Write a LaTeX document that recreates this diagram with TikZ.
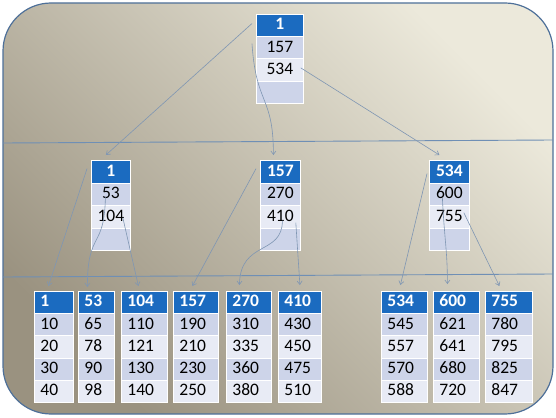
\documentclass[tikz,border=0pt]{standalone}
\usepackage{fontspec}
\setmainfont{Carlito}
\usetikzlibrary{arrows.meta}
\definecolor{hdrblue}{HTML}{1B6BC0}
\definecolor{rowdark}{HTML}{CDD4E9}
\definecolor{rowlight}{HTML}{E8EBF5}
\definecolor{bgdark}{HTML}{9A9280}
\definecolor{bglight}{HTML}{ECE9DB}
\definecolor{framec}{HTML}{4E7099}
\definecolor{sepline}{HTML}{6F8FB5}
\definecolor{connc}{HTML}{7F96B3}
\tikzset{
  cell/.style={draw=white, line width=0.8pt, anchor=north west, inner ysep=0pt,
    text height=11.8pt, text depth=3pt, font=\fontsize{17.5}{20}\selectfont},
  lcell/.style={cell, inner xsep=6pt, align=left},
  ccell/.style={cell, inner xsep=0pt, align=center},
  hdr/.style={fill=hdrblue, text=white, font=\fontsize{17.5}{20}\selectfont\bfseries},
  dark/.style={fill=rowdark, text=black},
  light/.style={fill=rowlight, text=black},
  conn/.style={draw=connc, line width=0.6pt, -{Straight Barb[length=3.5pt,width=5pt]}},
  sep/.style={draw=sepline, line width=0.9pt},
}
\newcommand\leaftab[8]{%
  \pgfmathsetmacro\tw{#3-12}%
  \node[lcell,hdr,text width=\tw pt,minimum height=22.2pt] (#1-h) at (#2,291) {#4};
  \node[lcell,dark,text width=\tw pt,minimum height=22.2pt] (#1-1) at (#2,313.2) {#5};
  \node[lcell,light,text width=\tw pt,minimum height=22.2pt] (#1-2) at (#2,335.4) {#6};
  \node[lcell,dark,text width=\tw pt,minimum height=22.2pt] (#1-3) at (#2,357.6) {#7};
  \node[lcell,light,text width=\tw pt,minimum height=22.2pt] (#1-4) at (#2,379.8) {#8};
}
\newcommand\uptab[8]{%
  \node[ccell,hdr,minimum width=#4pt,minimum height=#5pt] (#1-h) at (#2,#3) {#6};
  \node[ccell,dark,minimum width=#4pt,minimum height=#5pt] (#1-1) at (#2,{#3+#5}) {#7};
  \node[ccell,light,minimum width=#4pt,minimum height=#5pt] (#1-2) at (#2,{#3+2*#5}) {#8};
  \node[ccell,dark,minimum width=#4pt,minimum height=#5pt] (#1-3) at (#2,{#3+3*#5}) {};
}
\begin{document}
\begin{tikzpicture}[x=1pt,y=-1pt]
\useasboundingbox (0,0) rectangle (556,417);
\shade[draw=framec, line width=1.2pt, rounded corners=48pt, bottom color=bgdark, top color=bglight, shading angle=-45] (3,3) rectangle (553,414);
\draw[sep] (3,143) -- (553,140);
\draw[sep] (3,277) -- (553,274);

\uptab{R}{256}{14}{47}{22.2}{1}{157}{534}
\uptab{MA}{91}{160}{39}{22.5}{1}{53}{104}
\uptab{MB}{260}{160}{40}{22.5}{157}{270}{410}
\uptab{MC}{429}{160}{40}{22.5}{534}{600}{755}

\leaftab{LA}{34}{39}{1}{10}{20}{30}{40}
\leaftab{LB}{78}{36}{53}{65}{78}{90}{98}
\leaftab{LC}{121}{46}{104}{110}{121}{130}{140}
\leaftab{LD}{173}{45}{157}{190}{210}{230}{250}
\leaftab{LE}{226}{45}{270}{310}{335}{360}{380}
\leaftab{LF}{278}{43}{410}{430}{450}{475}{510}
\leaftab{LG}{381}{46}{534}{545}{557}{570}{588}
\leaftab{LH}{433}{46}{600}{621}{641}{680}{720}
\leaftab{LI}{485}{47}{755}{780}{795}{825}{847}

\draw[conn] ([xshift=-4pt,yshift=2pt]R-h.west) -- ([xshift=-5pt,yshift=5pt]MA-h.north);
\draw[conn] ([xshift=-4pt,yshift=4pt]R-1.west) .. controls +(4,62) and +(0,-60) .. ([xshift=-7pt,yshift=5pt]MB-h.north);
\draw[conn] ([xshift=-3pt,yshift=2pt]R-2.east) -- ([xshift=-10pt,yshift=5pt]MC-h.north);

\draw[conn] ([xshift=-4pt,yshift=3pt]MA-h.west) -- ([xshift=-5.5pt,yshift=5pt]LA-h.north);
\draw[conn] ([xshift=-5.5pt,yshift=-3pt]MA-1.center) .. controls +(-1,53) and +(0,-57) .. ([xshift=-9pt,yshift=4pt]LB-h.north);
\draw[conn] ([xshift=-8pt,yshift=-1pt]MA-2.east) -- ([xshift=-6pt,yshift=5pt]LC-h.north);

\draw[conn] ([xshift=-4pt,yshift=3pt]MB-h.west) -- ([xshift=-3.5pt,yshift=5pt]LD-h.north);
\draw[conn] ([xshift=2pt,yshift=-4pt]MB-2.center) .. controls +(0,35) and +(1,-45) .. ([xshift=-9.5pt,yshift=6pt]LE-h.north);
\draw[conn] ([xshift=-5pt,yshift=-6pt]MB-2.east) -- ([yshift=6pt]LF-h.north);

\draw[conn] ([xshift=-2pt,yshift=-2pt]MC-h.west) -- ([xshift=-4pt,yshift=6pt]LG-h.north);
\draw[conn] ([xshift=-7pt,yshift=-4pt]MC-1.center) .. controls +(2,42) and +(0,-34) .. ([xshift=-9pt,yshift=7pt]LH-h.north);
\draw[conn] ([xshift=-6pt,yshift=4pt]MC-2.east) -- ([xshift=-9.5pt,yshift=5pt]LI-h.north);
\end{tikzpicture}
\end{document}
